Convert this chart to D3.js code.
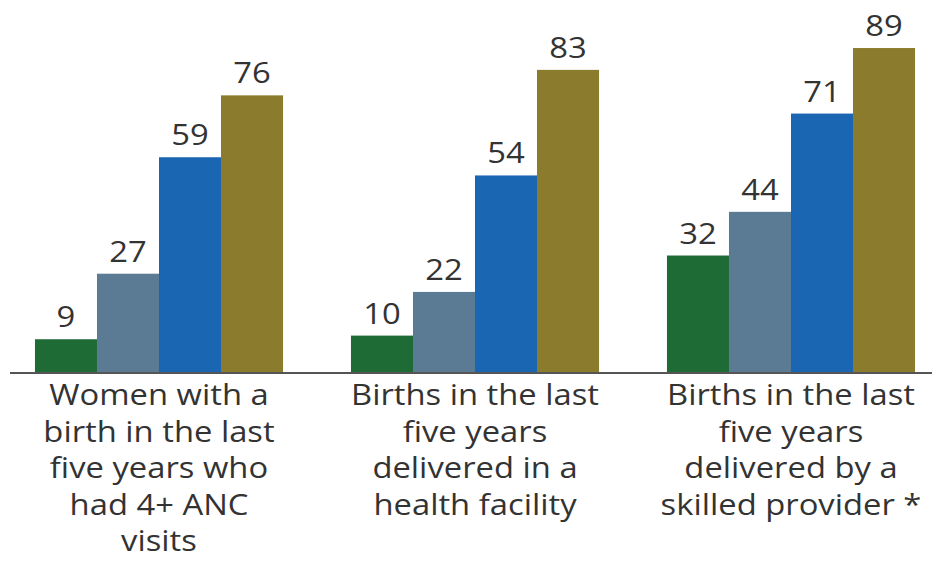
<!DOCTYPE html>
<html>
<head>
<meta charset="utf-8">
<script src="https://cdn.jsdelivr.net/npm/d3@7/dist/d3.min.js"></script>
<style>
  html, body { margin: 0; padding: 0; background: #fff; }
  svg { display: block; }
  text { font-family: "Open Sans", "Noto Sans", sans-serif; fill: #333; }
</style>
</head>
<body>
<svg id="chart" width="932" height="573"></svg>
<script>
// Indicator groups along the x axis, each label split into its lines
const categories = ["anc", "facility", "skilled"];
const categoryLines = [
  ["Women with a", "birth in the last", "five years who", "had 4+ ANC", "visits"],
  ["Births in the last", "five years", "delivered in a", "health facility"],
  ["Births in the last", "five years", "delivered by a", "skilled provider *"]
];

// One series per bar position within a group (percent)
const seriesKeys = ["s1", "s2", "s3", "s4"];
const series1 = [9, 10, 32];
const series2 = [27, 22, 44];
const series3 = [59, 54, 71];
const series4 = [76, 83, 89];
const seriesColors = ["#1e6b36", "#5b7a93", "#1b66b3", "#8a7b2d"];

const allSeries = [series1, series2, series3, series4];

const svg = d3.select("#chart");
const baseline = 372;
const hScale = 1.13; // horizontal stretch for the condensed-looking lettering

const x0 = d3.scaleBand()
  .domain(categories)
  .range([1, 949])
  .paddingInner(0.215)
  .paddingOuter(0.1075);

const x1 = d3.scaleBand()
  .domain(seriesKeys)
  .range([0, x0.bandwidth()])
  .padding(0);

const y = d3.scaleLinear()
  .domain([0, 100])
  .range([baseline, 8]);

const rows = categories.map((c, i) => ({
  cat: c,
  values: seriesKeys.map((k, j) => ({ key: k, value: allSeries[j][i], color: seriesColors[j] }))
}));

const groups = svg.selectAll("g.group")
  .data(rows)
  .join("g")
  .attr("class", "group")
  .attr("transform", d => `translate(${x0(d.cat)},0)`);

groups.selectAll("rect")
  .data(d => d.values)
  .join("rect")
  .attr("x", d => x1(d.key))
  .attr("y", d => y(d.value))
  .attr("width", x1.bandwidth())
  .attr("height", d => y(0) - y(d.value))
  .attr("fill", d => d.color);

groups.selectAll("text.value")
  .data(d => d.values)
  .join("text")
  .attr("class", "value")
  .attr("text-anchor", "middle")
  .attr("font-size", 29)
  .attr("transform", d => `translate(${x1(d.key) + x1.bandwidth() / 2},${y(d.value) - 12}) scale(${hScale},1)`)
  .text(d => d.value);

// Baseline axis
svg.append("line")
  .attr("x1", 10)
  .attr("x2", 932)
  .attr("y1", baseline + 1)
  .attr("y2", baseline + 1)
  .attr("stroke", "#555")
  .attr("stroke-width", 2);

// Category labels below the axis
const labelGroups = svg.selectAll("g.label")
  .data(categories)
  .join("g")
  .attr("class", "label")
  .attr("transform", d => `translate(${x0(d) + x0.bandwidth() / 2},0)`);

labelGroups.each(function(d, i) {
  d3.select(this).selectAll("text")
    .data(categoryLines[i])
    .join("text")
    .attr("text-anchor", "middle")
    .attr("font-size", 29)
    .attr("transform", (t, j) => `translate(0,${405 + j * 36.5}) scale(${hScale},1)`)
    .text(t => t);
});
</script>
</body>
</html>
